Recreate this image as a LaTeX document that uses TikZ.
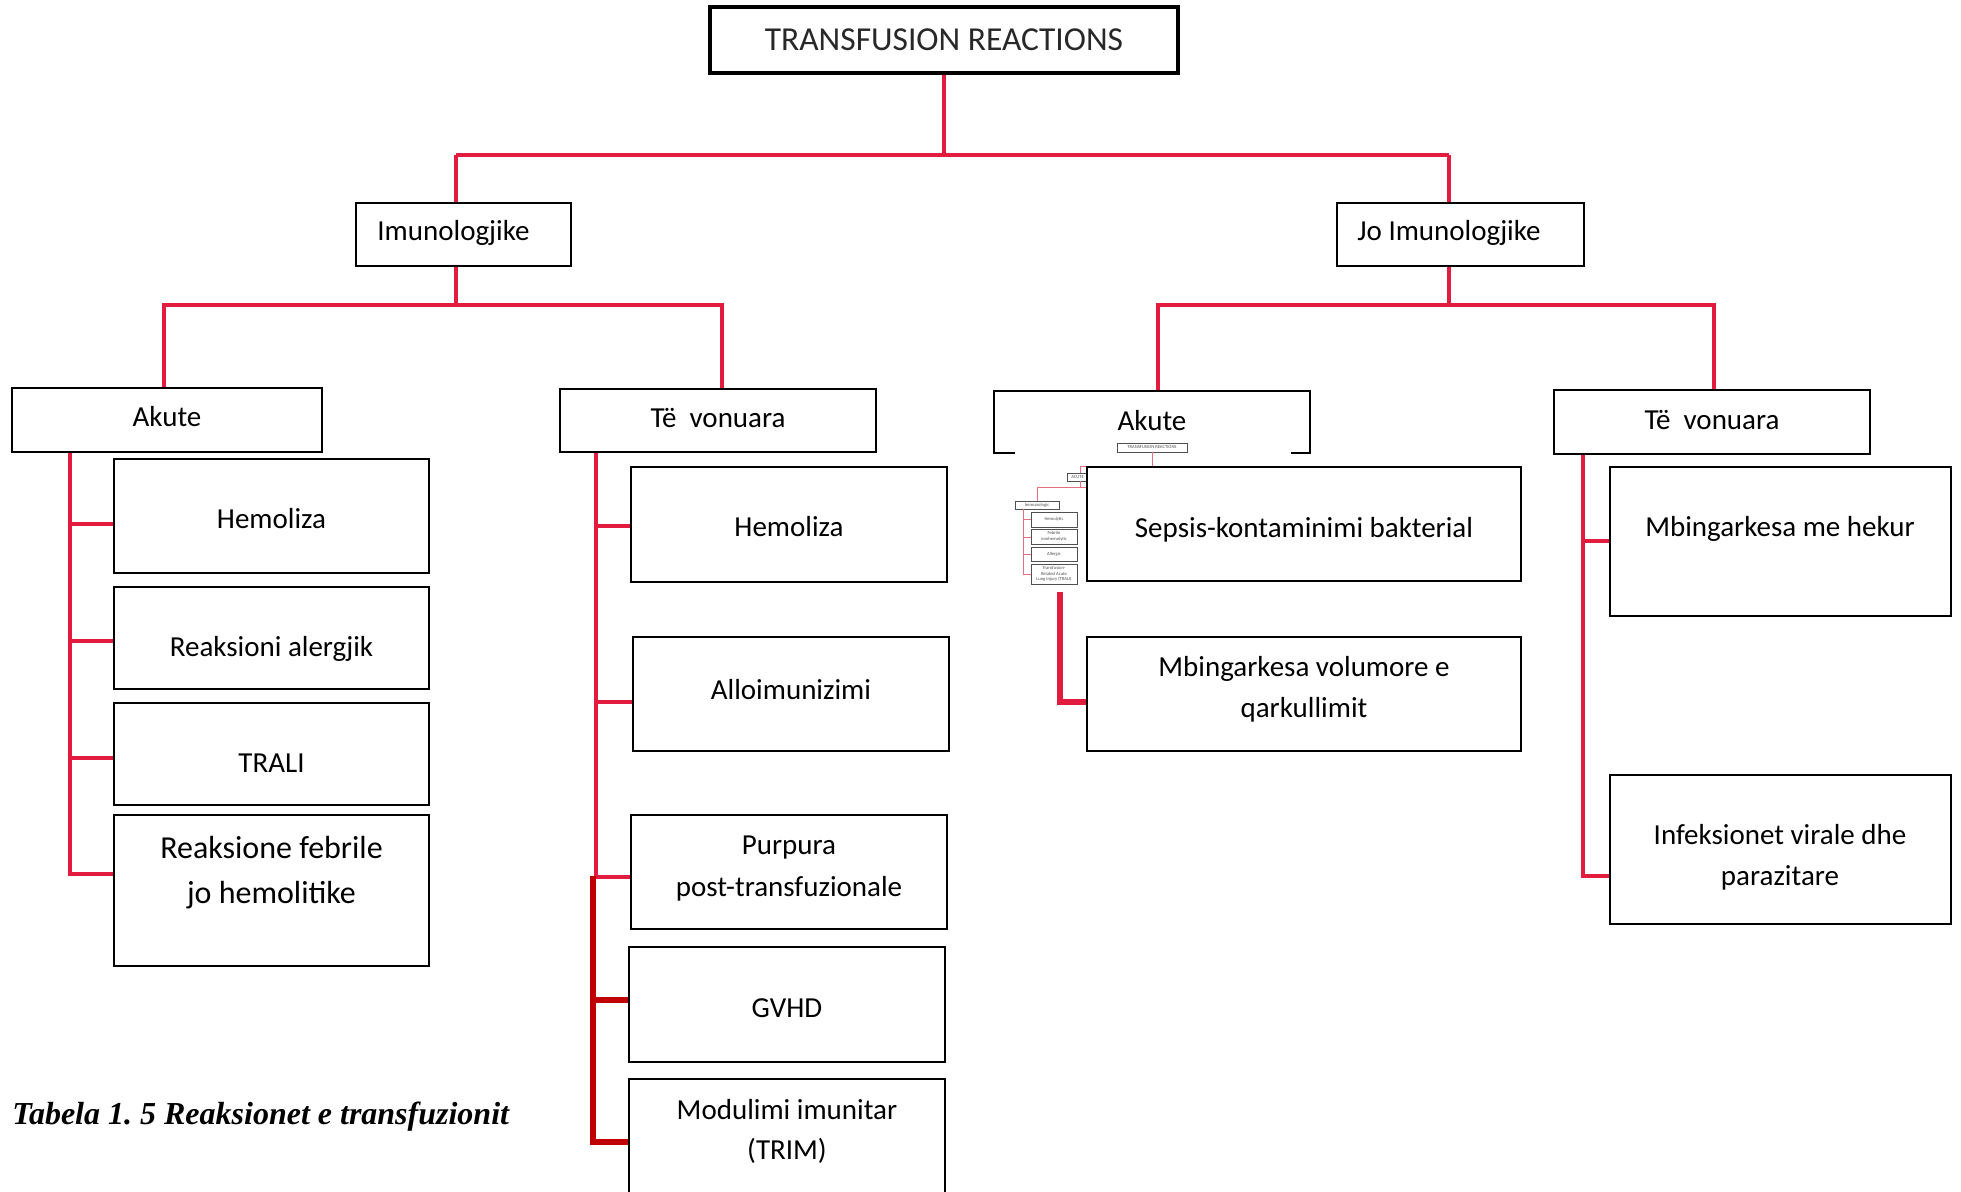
\documentclass[tikz,border=0pt]{standalone}
\usepackage{fontspec}
\setmainfont{Carlito}
\newfontfamily\capfont{Liberation Serif}
\frenchspacing
\definecolor{connred}{RGB}{226,28,62}
\definecolor{deepred}{RGB}{192,0,0}
\definecolor{titlegray}{RGB}{40,40,40}
\definecolor{minipink}{RGB}{232,110,130}
\definecolor{minigray}{RGB}{80,80,80}
\pgfdeclarelayer{back}
\pgfdeclarelayer{bg}
\pgfsetlayers{back,bg,main}
\newcommand\mkbox[6][]{\node[boxst,#1,minimum width={(#5-#3)*0.5pt},minimum height={(#6-#4)*0.5pt}] (#2) at ({(#3+#5)/2},{(#4+#6)/2}) {};}
\tikzset{
 boxst/.style={draw=black,fill=white,line width=1.1pt,inner sep=0pt,outer sep=0pt},
 titlebox/.style={line width=2pt},
 minibox/.style={draw=minigray,line width=0.35pt},
 txt/.style={inner sep=0pt,anchor=base,font=\fontsize{14.5pt}{17pt}\selectfont},
 bigtxt/.style={inner sep=0pt,anchor=base,font=\fontsize{16pt}{19pt}\selectfont},
 ttltxt/.style={inner sep=0pt,anchor=base,text=titlegray,font=\fontsize{16.75pt}{20pt}\selectfont},
 minitxt/.style={inner sep=0pt,text=minigray,font=\fontsize{2.3pt}{2.8pt}\selectfont,align=center},
 conn/.style={draw=connred,line width=1.8pt},
 deepconn/.style={draw=deepred,line width=2.6pt},
 thickconn/.style={draw=connred,line width=2.6pt},
 miniconn/.style={draw=minipink,line width=0.4pt},
}
\begin{document}
\begin{tikzpicture}[x=0.5pt,y=-0.5pt]
\useasboundingbox (0,0) rectangle (1961,1192);
\begin{pgfonlayer}{back}
\fill[white] (0,0) rectangle (1961,1192);
\end{pgfonlayer}

% ---------- main boxes ----------
\mkbox[titlebox]{title}{710}{7}{1178}{73}
\mkbox{imu}{356}{203}{571}{266}
\mkbox{jo}{1337}{203}{1584}{266}
\mkbox{akL}{12}{388}{322}{452}
\mkbox{vonL}{560}{389}{876}{452}
\mkbox{akR}{994}{391}{1310}{453}
\mkbox{vonR}{1554}{390}{1870}{454}
\mkbox{lhem}{114}{459}{429}{573}
\mkbox{lale}{114}{587}{429}{689}
\mkbox{ltra}{114}{703}{429}{805}
\mkbox{lfeb}{114}{815}{429}{966}
\mkbox{mhem}{631}{467}{947}{582}
\mkbox{mall}{633}{637}{949}{751}
\mkbox{mpur}{631}{815}{947}{929}
\mkbox{mgvh}{629}{947}{945}{1062}
\mkbox{mtrim}{629}{1079}{945}{1196}
\mkbox{vol}{1087}{637}{1521}{751}
\mkbox{hek}{1610}{467}{1951}{616}
\mkbox{inf}{1610}{775}{1951}{924}

% ---------- embedded small chart ----------
\fill[white] (1015,446) rectangle (1291,592);
\mkbox[minibox]{etitle}{1117}{443}{1187}{452}
\mkbox[minibox]{eacute}{1067}{473}{1115}{481}
\mkbox[minibox]{eimmu}{1015}{501}{1059}{509}
\mkbox[minibox]{ehem}{1031}{512}{1077}{527}
\mkbox[minibox]{efeb}{1031}{529}{1077}{544}
\mkbox[minibox]{eall}{1031}{547}{1077}{561}
\mkbox[minibox]{etra}{1031}{564}{1077}{584}
\node[minitxt] (te-title) at (etitle) {TRANSFUSION REACTIONS};
\node[minitxt,anchor=west] (te-acute) at (1071,477) {ACUTE};
\node[minitxt] (te-immu) at (eimmu) {Immunologic};
\node[minitxt] (te-hem) at (ehem) {Hemolytic};
\node[minitxt] (te-feb) at (efeb) {Febrile\\nonhemolytic};
\node[minitxt] (te-all) at (eall) {Allergic};
\node[minitxt] (te-tra) at (etra) {Transfusion-\\Related Acute\\Lung Injury (TRALI)};
\coordinate (e0) at (1152,466);
\coordinate (e1) at (1080,466);
\coordinate (e2) at (1227,466);
\draw[miniconn] (etitle.south) -- (e0);
\draw[miniconn] (e1) -- (e2);
\draw[miniconn] (e1) -- (e1 |- eacute.north);
\coordinate (e3) at (1080,487);
\coordinate (e4) at (1037,487);
\coordinate (e5) at (1100,487);
\draw[miniconn] (e3 |- eacute.south) -- (e3);
\draw[miniconn] (e4) -- (e5);
\draw[miniconn] (e4) -- (e4 |- eimmu.north);
\coordinate (e6) at (1023,574);
\coordinate (e7) at (1023,519);
\coordinate (e8) at (1023,537);
\coordinate (e9) at (1023,554);
\draw[miniconn] (e6 |- eimmu.south) -- (e6) -- (e6 -| etra.west);
\draw[miniconn] (e7) -- (e7 -| ehem.west);
\draw[miniconn] (e8) -- (e8 -| efeb.west);
\draw[miniconn] (e9) -- (e9 -| eall.west);

\mkbox{sep}{1087}{467}{1521}{581}

% ---------- texts ----------
\node[ttltxt] (t-title) at (944,51) {TRANSFUSION REACTIONS};
\node[txt,anchor=base west] (t-imu) at (377,241) {Imunologjike};
\node[txt,anchor=base west] (t-jo) at (1357,241) {Jo Imunologjike};
\node[txt] (t-akL) at (167,427) {Akute};
\node[txt] (t-vonL) at (718,428) {Të~~vonuara};
\node[txt] (t-akR) at (1152,431) {Akute};
\node[txt] (t-vonR) at (1712,430) {Të~~vonuara};
\node[txt] (t-lhem) at (271.5,529) {Hemoliza};
\node[txt] (t-lale) at (271.5,656) {Reaksioni alergjik};
\node[txt] (t-ltra) at (271.5,772) {TRALI};
\node[bigtxt] (t-lfeb1) at (271.5,858) {Reaksione febrile};
\node[bigtxt] (t-lfeb2) at (271.5,903) {jo hemolitike};
\node[txt] (t-mhem) at (789,537) {Hemoliza};
\node[txt] (t-mall) at (791,699) {Alloimunizimi};
\node[txt] (t-mpur1) at (789,854) {Purpura};
\node[txt] (t-mpur2) at (789,896) {post-transfuzionale};
\node[txt] (t-mgvh) at (787,1017) {GVHD};
\node[txt] (t-mtrim1) at (787,1119) {Modulimi imunitar};
\node[txt] (t-mtrim2) at (787,1159) {(TRIM)};
\node[txt] (t-sep) at (1304,538) {Sepsis-kontaminimi bakterial};
\node[txt] (t-vol1) at (1304,676) {Mbingarkesa volumore e};
\node[txt] (t-vol2) at (1304,717) {qarkullimit};
\node[txt] (t-hek) at (1780,537) {Mbingarkesa me hekur};
\node[txt] (t-inf1) at (1780,844) {Infeksionet virale dhe};
\node[txt] (t-inf2) at (1780,885) {parazitare};
\node[anchor=base west,inner sep=0pt,font=\capfont\bfseries\itshape\fontsize{16pt}{19pt}\selectfont] (caption) at (12,1124) {Tabela 1. 5 Reaksionet e transfuzionit};

% ---------- connectors ----------
\begin{pgfonlayer}{bg}
\coordinate (j0) at (944,155);
\coordinate (jimu) at (456,155);
\coordinate (jjo) at (1449,155);
\draw[conn] (title.south) -- (j0);
\draw[conn] (jimu) -- (jjo);
\draw[conn] (jimu) -- (jimu |- imu.north);
\draw[conn] (jjo) -- (jjo |- jo.north);
\coordinate (kimu) at (456,305);
\draw[conn] (kimu |- imu.south) -- (kimu);
\coordinate (kL) at (164,305);
\coordinate (kR) at (722,305);
\draw[conn] (kL |- akL.north) -- (kL) -- (kR) -- (kR |- vonL.north);
\coordinate (kjo) at (1449,305);
\draw[conn] (kjo |- jo.south) -- (kjo);
\coordinate (mL) at (1158,305);
\coordinate (mR) at (1714,305);
\draw[conn] (mL |- akR.north) -- (mL) -- (mR) -- (mR |- vonR.north);
% left Akute
\coordinate (sL) at (70,874);
\coordinate (sL1) at (70,524);
\coordinate (sL2) at (70,641);
\coordinate (sL3) at (70,758);
\draw[conn] (sL |- akL.south) -- (sL) -- (sL -| lfeb.west);
\draw[conn] (sL1) -- (sL1 -| lhem.west);
\draw[conn] (sL2) -- (sL2 -| lale.west);
\draw[conn] (sL3) -- (sL3 -| ltra.west);
% left Te vonuara
\coordinate (sM) at (596,877);
\coordinate (sM1) at (596,526);
\coordinate (sM2) at (596,702);
\draw[conn] (sM |- vonL.south) -- (sM) -- (sM -| mpur.west);
\draw[conn] (sM1) -- (sM1 -| mhem.west);
\draw[conn] (sM2) -- (sM2 -| mall.west);
\coordinate (dM0) at (593,876);
\coordinate (dM1) at (593,1000);
\coordinate (dM2) at (593,1142);
\draw[deepconn] (dM0) -- (dM2) -- (dM2 -| mtrim.west);
\draw[deepconn] (dM1) -- (dM1 -| mgvh.west);
% right Akute
\coordinate (vA) at (1060,585);
\coordinate (vB) at (1060,702);
\draw[thickconn] (vA) -- (vB) -- (vB -| vol.west);
% right Te vonuara
\coordinate (sR) at (1583,876);
\coordinate (sR1) at (1583,541);
\draw[conn] (sR |- vonR.south) -- (sR) -- (sR -| inf.west);
\draw[conn] (sR1) -- (sR1 -| hek.west);
\end{pgfonlayer}
\end{tikzpicture}
\end{document}
